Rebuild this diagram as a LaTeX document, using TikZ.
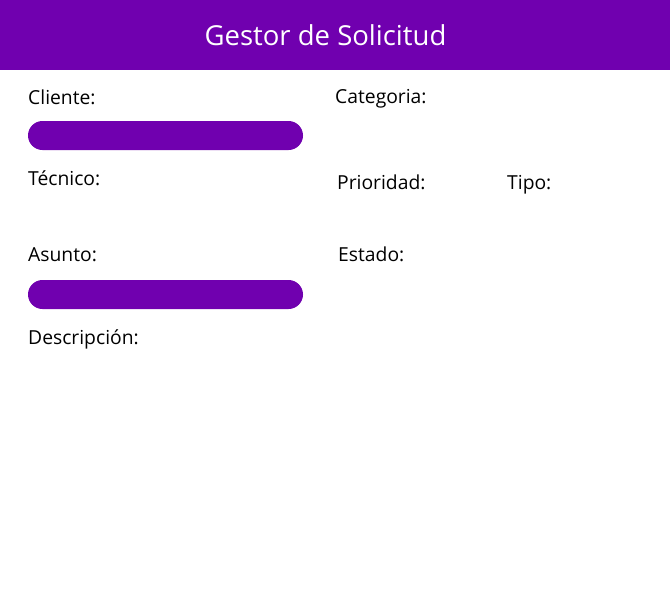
\documentclass[tikz,border=0pt]{standalone}
\usepackage{fontspec}
\setmainfont{Open Sans}
\definecolor{hdr}{RGB}{112,0,175}
\tikzset{
  lbl/.style={anchor=base west, inner sep=0pt, font=\fontsize{19.3}{23}\selectfont, text=black},
  bar/.style={fill=hdr, rounded corners=14.5pt},
}
\begin{document}
\begin{tikzpicture}[x=1pt,y=-1pt]
\useasboundingbox (0,0) rectangle (670,590);
\fill[white] (0,0) rectangle (670,590);
\fill[hdr] (0,0) rectangle (670,70);
\node[inner sep=0pt, text=white, font=\fontsize{27.5}{32}\selectfont] (title) at (325.5,35) {Gestor de Solicitud};
\node[lbl] (cliente) at (28,104) {Cliente:};
\node[lbl] (categoria) at (335,103) {Categoria:};
\fill[bar] (28,121) rectangle (303,150);
\node[lbl] (tecnico) at (28,185) {Técnico:};
\node[lbl] (prioridad) at (337,189) {Prioridad:};
\node[lbl] (tipo) at (507,189) {Tipo:};
\node[lbl] (asunto) at (28,261) {Asunto:};
\node[lbl] (estado) at (338,261) {Estado:};
\fill[bar] (28,280) rectangle (303,309);
\node[lbl] (descripcion) at (28,344) {Descripción:};
\end{tikzpicture}
\end{document}
